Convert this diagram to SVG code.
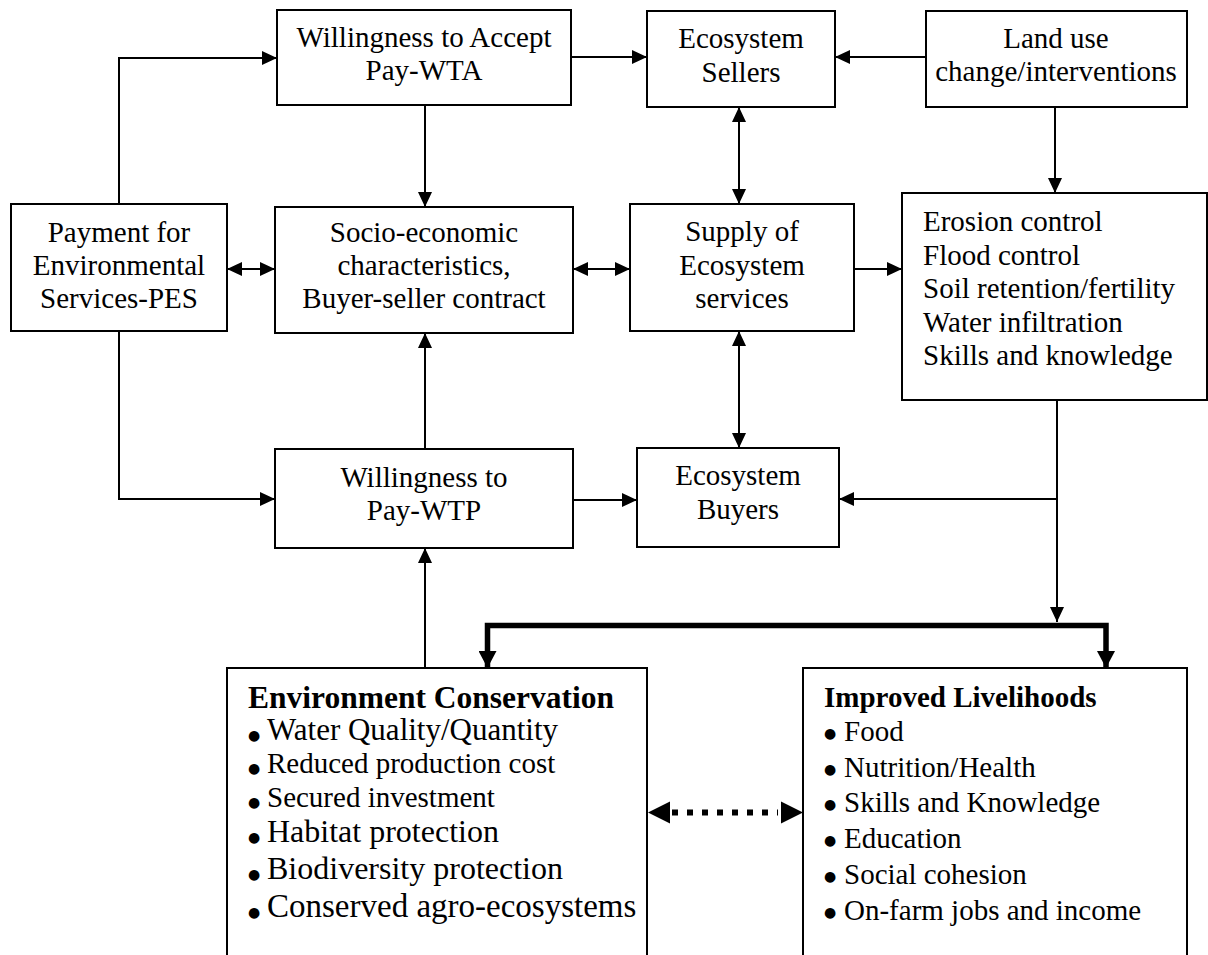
<svg xmlns="http://www.w3.org/2000/svg" width="1208" height="955" viewBox="0 0 1208 955">
<style>
.box{fill:#fff;stroke:#000;stroke-width:2}
.t{font-family:"Liberation Serif","Times New Roman",serif;font-size:29px;fill:#000}
.c{text-anchor:middle}
.b{font-weight:bold}
.bul{font-family:"DejaVu Sans",sans-serif;font-size:14px}
.ln{fill:none;stroke:#000;stroke-width:2}
.thick{fill:none;stroke:#000;stroke-width:5.5}
</style>
<defs>
<marker id="ah" markerUnits="userSpaceOnUse" markerWidth="15" markerHeight="14" refX="15" refY="7" orient="auto-start-reverse"><path d="M0,0 L15,7 L0,14 z" fill="#000"/></marker>
<marker id="ahT" markerUnits="userSpaceOnUse" markerWidth="17" markerHeight="18" refX="17" refY="9" orient="auto-start-reverse"><path d="M0,0 L17,9 L0,18 z" fill="#000"/></marker>
</defs>
<rect width="1208" height="955" fill="#fff"/>
<g id="connectors">
<path class="ln" d="M119 204 V58 H277" marker-end="url(#ah)"/>
<path class="ln" d="M571 57 H647" marker-end="url(#ah)"/>
<path class="ln" d="M926 57 H835" marker-end="url(#ah)"/>
<path class="ln" d="M425 105 V207" marker-end="url(#ah)"/>
<path class="ln" d="M739 107 V204" marker-start="url(#ah)" marker-end="url(#ah)"/>
<path class="ln" d="M1055 107 V193" marker-end="url(#ah)"/>
<path class="ln" d="M227 269 H275" marker-start="url(#ah)" marker-end="url(#ah)"/>
<path class="ln" d="M573 269 H630" marker-start="url(#ah)" marker-end="url(#ah)"/>
<path class="ln" d="M854 269 H902" marker-end="url(#ah)"/>
<path class="ln" d="M119 331 V499 H275" marker-end="url(#ah)"/>
<path class="ln" d="M425 449 V333" marker-end="url(#ah)"/>
<path class="ln" d="M739 331 V448" marker-start="url(#ah)" marker-end="url(#ah)"/>
<path class="ln" d="M573 500 H637" marker-end="url(#ah)"/>
<path class="ln" d="M1057 400 V622" marker-end="url(#ah)"/>
<path class="ln" d="M1057 499 H839" marker-end="url(#ah)"/>
<path class="thick" d="M487.5 668 V625.5 H1106 V668" marker-start="url(#ahT)" marker-end="url(#ahT)"/>
<path class="ln" d="M425 668 V548" marker-end="url(#ah)"/>
<path d="M672 812.5 H778" fill="none" stroke="#000" stroke-width="6" stroke-dasharray="6 9"/>
<polygon points="648,812.5 670,801.5 670,823.5" fill="#000"/>
<polygon points="803,812.5 781,801.5 781,823.5" fill="#000"/>
</g>
<g id="wta"><rect class="box" x="277" y="10" width="294" height="95"/><text class="t c" x="424" y="47">Willingness to Accept</text><text class="t c" x="424" y="80">Pay-WTA</text></g>
<g id="sellers"><rect class="box" x="647" y="11" width="188" height="96"/><text class="t c" x="741" y="48">Ecosystem</text><text class="t c" x="741" y="82">Sellers</text></g>
<g id="landuse"><rect class="box" x="926" y="11" width="261" height="96"/><text class="t c" x="1056" y="48">Land use</text><text class="t c" x="1056" y="81">change/interventions</text></g>
<g id="pes"><rect class="box" x="11" y="204" width="216" height="127"/><text class="t c" x="119" y="242">Payment for</text><text class="t c" x="119" y="275">Environmental</text><text class="t c" x="119" y="308">Services-PES</text></g>
<g id="socio"><rect class="box" x="275" y="207" width="298" height="126"/><text class="t c" x="424" y="242">Socio-economic</text><text class="t c" x="424" y="275">characteristics,</text><text class="t c" x="424" y="308">Buyer-seller contract</text></g>
<g id="supply"><rect class="box" x="630" y="204" width="224" height="127"/><text class="t c" x="742" y="241">Supply of</text><text class="t c" x="742" y="275">Ecosystem</text><text class="t c" x="742" y="308">services</text></g>
<g id="outcomes"><rect class="box" x="902" y="193" width="305" height="207"/>
<text class="t" x="923" y="231">Erosion control</text><text class="t" x="923" y="265">Flood control</text><text class="t" x="923" y="298">Soil retention/fertility</text><text class="t" x="923" y="332">Water infiltration</text><text class="t" x="923" y="365">Skills and knowledge</text></g>
<g id="wtp"><rect class="box" x="275" y="449" width="298" height="99"/><text class="t c" x="424" y="487">Willingness to</text><text class="t c" x="424" y="520">Pay-WTP</text></g>
<g id="buyers"><rect class="box" x="637" y="448" width="202" height="99"/><text class="t c" x="738" y="485">Ecosystem</text><text class="t c" x="738" y="519">Buyers</text></g>
<g id="envcons"><rect class="box" x="227" y="668" width="420" height="300"/>
<text class="t b" x="248" y="708" style="font-size:31.5px">Environment Conservation</text>
<text class="t" x="248" y="740" style="font-size:31px"><tspan class="bul">●</tspan><tspan x="267">Water Quality/Quantity</tspan></text>
<text class="t" x="248" y="773"><tspan class="bul">●</tspan><tspan x="267">Reduced production cost</tspan></text>
<text class="t" x="248" y="807"><tspan class="bul">●</tspan><tspan x="267">Secured investment</tspan></text>
<text class="t" x="248" y="842" style="font-size:32px"><tspan class="bul">●</tspan><tspan x="267">Habitat protection</tspan></text>
<text class="t" x="248" y="879" style="font-size:32px"><tspan class="bul">●</tspan><tspan x="267">Biodiversity protection</tspan></text>
<text class="t" x="248" y="917" style="font-size:33px"><tspan class="bul">●</tspan><tspan x="267">Conserved agro-ecosystems</tspan></text>
</g>
<g id="livelihoods"><rect class="box" x="803" y="668" width="384" height="300"/>
<text class="t b" x="824" y="707">Improved Livelihoods</text>
<text class="t" x="824" y="741"><tspan class="bul" dy="-3">●</tspan><tspan x="844" dy="3">Food</tspan></text>
<text class="t" x="824" y="777"><tspan class="bul" dy="-3">●</tspan><tspan x="844" dy="3">Nutrition/Health</tspan></text>
<text class="t" x="824" y="812"><tspan class="bul" dy="-3">●</tspan><tspan x="844" dy="3">Skills and Knowledge</tspan></text>
<text class="t" x="824" y="848"><tspan class="bul" dy="-3">●</tspan><tspan x="844" dy="3">Education</tspan></text>
<text class="t" x="824" y="884"><tspan class="bul" dy="-3">●</tspan><tspan x="844" dy="3">Social cohesion</tspan></text>
<text class="t" x="824" y="920"><tspan class="bul" dy="-3">●</tspan><tspan x="844" dy="3">On-farm jobs and income</tspan></text>
</g>
</svg>
